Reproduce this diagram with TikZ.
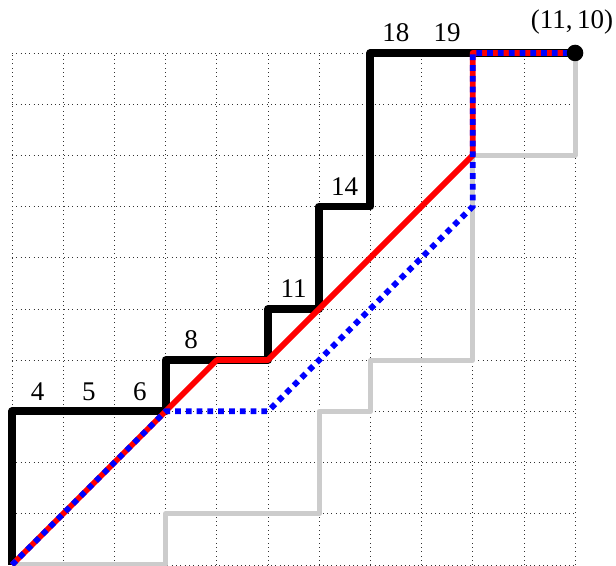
\documentclass[tikz,border=0pt]{standalone}
\usepackage{fontspec}
\setmainfont{Liberation Serif}
\usepackage{tikz}
\usetikzlibrary{positioning}
\tikzset{
  gridline/.style={dotted, black!80, line width=0.4pt},
  upperpath/.style={black, line width=4.4pt, line join=round},
  lowerpath/.style={black!20, line width=2.8pt, line join=round},
  redpath/.style={red, line width=3.2pt, line join=round},
  bluepath/.style={blue, line width=3.2pt, dash pattern=on 3.2pt off 2.8pt},
  steplabel/.style={font=\fontsize{15}{17}\selectfont, anchor=base, inner sep=0pt},
  enddot/.style={circle, fill=black, minimum size=9.2pt, inner sep=0pt}
}
\begin{document}
\begin{tikzpicture}
\useasboundingbox (-0.234,-0.02) rectangle (11.8,11.035);
% grid
\draw[gridline] (0,0) grid (11,10);
% lower path
\draw[lowerpath] (0,0) -- (3,0) -- (3,1) -- (6,1) -- (6,3) -- (7,3) -- (7,4) -- (9,4) -- (9,8) -- (11,8) -- (11,10);
% upper path
\draw[upperpath] (0,0) -- (0,3) -- (3,3) -- (3,4) -- (5,4) -- (5,5) -- (6,5) -- (6,7) -- (7,7) -- (7,10) -- (11,10);
% red and blue paths
\draw[redpath] (0,0) -- (4,4) -- (5,4) -- (9,8) -- (9,10) -- (11,10);
\draw[bluepath] (0,0) -- (3,3) -- (5,3) -- (9,7) -- (9,10) -- (11,10);
% end point
\node[enddot] (end) at (11,10) {};
\node[steplabel] (endlbl) at (10.94,10.47) {(11,\,10)};
% labels
\node[steplabel] (l4) at (0.5,3.22) {4};
\node[steplabel] (l5) at (1.5,3.22) {5};
\node[steplabel] (l6) at (2.5,3.22) {6};
\node[steplabel] (l8) at (3.5,4.22) {8};
\node[steplabel] (l11) at (5.5,5.22) {11};
\node[steplabel] (l14) at (6.5,7.22) {14};
\node[steplabel] (l18) at (7.5,10.22) {18};
\node[steplabel] (l19) at (8.5,10.22) {19};
\end{tikzpicture}
\end{document}
